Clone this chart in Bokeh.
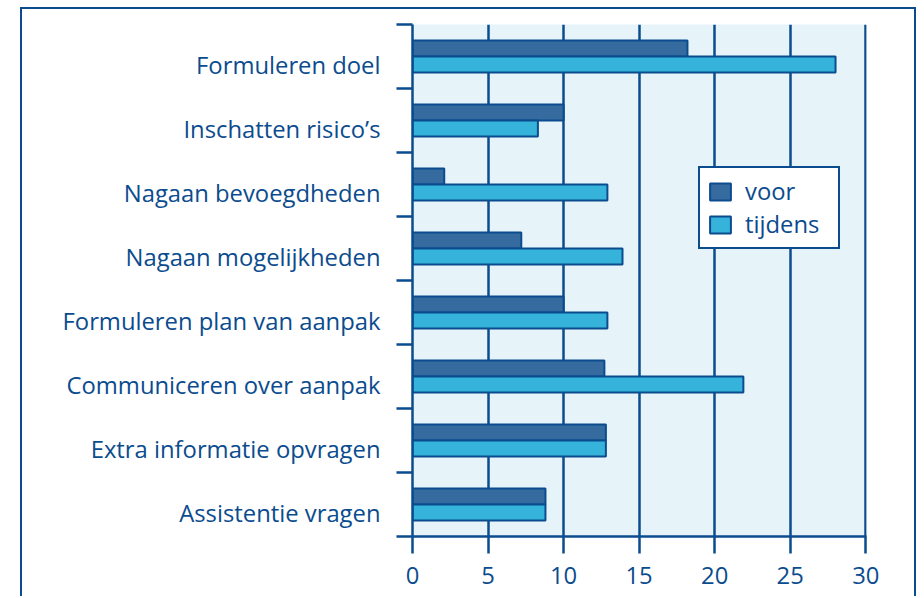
from bokeh.plotting import figure
from bokeh.models import FixedTicker, Legend, LegendItem, Range1d, ColumnDataSource
from bokeh.embed import file_html
from bokeh.resources import INLINE

categories = ["Formuleren doel", "Inschatten risico\u2019s", "Nagaan bevoegdheden",
              "Nagaan mogelijkheden", "Formuleren plan van aanpak",
              "Communiceren over aanpak", "Extra informatie opvragen", "Assistentie vragen"]
voor = [18.2, 10.0, 2.1, 7.2, 10.0, 12.7, 12.8, 8.8]
tijdens = [28.0, 8.3, 12.9, 13.9, 12.9, 21.9, 12.8, 8.8]
x_ticks = [0, 5, 10, 15, 20, 25, 30]
series_labels = ["voor", "tijdens"]

EDGE = "#0B4C8E"
VOOR = "#366B9F"
TIJDENS = "#35B3DB"
BG = "#E6F4FA"
TEXT = "#0B4C8E"
FONT = "Open Sans"
FS = "23.8px"

n = len(categories)
centers = [n - i - 0.5 for i in range(n)]
BAR_H = 0.25
LABEL_SHIFT = 0.14  # category labels sit slightly below band centre

src = ColumnDataSource(dict(
    cat=categories,
    y_voor=[c + BAR_H / 2 for c in centers],
    y_tijdens=[c - BAR_H / 2 for c in centers],
    voor=voor,
    tijdens=tijdens,
))

p = figure(width=896, height=589, x_range=Range1d(0, 30.05), y_range=Range1d(0, n),
           output_backend="svg", toolbar_location=None,
           min_border_left=390, min_border_right=52, min_border_top=15, min_border_bottom=62)

p.styles = {
    "margin-left": "20px",
    "margin-top": "7px",
    "border-left": "2px solid " + EDGE,
    "border-right": "2px solid " + EDGE,
    "border-top": "2px solid " + EDGE,
}

p.background_fill_color = BG
p.border_fill_color = "white"
p.outline_line_color = None

# grid
p.ygrid.grid_line_color = None
p.xgrid.ticker = FixedTicker(ticks=x_ticks)
p.xgrid.grid_line_color = EDGE
p.xgrid.grid_line_width = 2.5
p.xgrid.grid_line_alpha = 1.0

# x axis
xa = p.xaxis[0]
xa.ticker = FixedTicker(ticks=x_ticks)
xa.axis_line_color = EDGE
xa.axis_line_width = 2.5
xa.major_tick_line_color = EDGE
xa.major_tick_line_width = 2.5
xa.major_tick_out = 17
xa.major_tick_in = 0
xa.minor_tick_line_color = None
xa.major_label_text_font = FONT
xa.major_label_text_font_size = FS
xa.major_label_text_color = TEXT
xa.major_label_standoff = 13

# y axis
label_pos = [c - LABEL_SHIFT for c in centers]
ya = p.yaxis[0]
ya.ticker = FixedTicker(ticks=label_pos, minor_ticks=list(range(n + 1)))
ya.major_label_overrides = {c: lab for c, lab in zip(label_pos, categories)}
ya.axis_line_color = EDGE
ya.axis_line_width = 2.5
ya.major_tick_line_color = None
ya.major_tick_out = 0
ya.major_tick_in = 0
ya.minor_tick_line_color = EDGE
ya.minor_tick_line_width = 2.5
ya.minor_tick_out = 16
ya.minor_tick_in = 0
ya.major_label_text_font = FONT
ya.major_label_text_font_size = FS
ya.major_label_text_color = TEXT
ya.major_label_standoff = 16

r1 = p.hbar(y="y_voor", left=0, right="voor", height=BAR_H, source=src,
            fill_color=VOOR, line_color=EDGE, line_width=2)
r2 = p.hbar(y="y_tijdens", left=0, right="tijdens", height=BAR_H, source=src,
            fill_color=TIJDENS, line_color=EDGE, line_width=2)

legend = Legend(items=[LegendItem(label=series_labels[0], renderers=[r1]),
                       LegendItem(label=series_labels[1], renderers=[r2])],
                location=(286, 287))
legend.border_line_color = EDGE
legend.border_line_width = 2.5
legend.border_line_alpha = 1.0
legend.background_fill_color = "white"
legend.background_fill_alpha = 1.0
legend.label_text_font = FONT
legend.label_text_font_size = FS
legend.label_text_color = TEXT
legend.glyph_width = 26
legend.glyph_height = 21
legend.label_standoff = 12
legend.label_width = 86
legend.padding = 7
legend.spacing = 1
legend.margin = 0
p.add_layout(legend)

open("out.html", "w").write(file_html(p, INLINE))
